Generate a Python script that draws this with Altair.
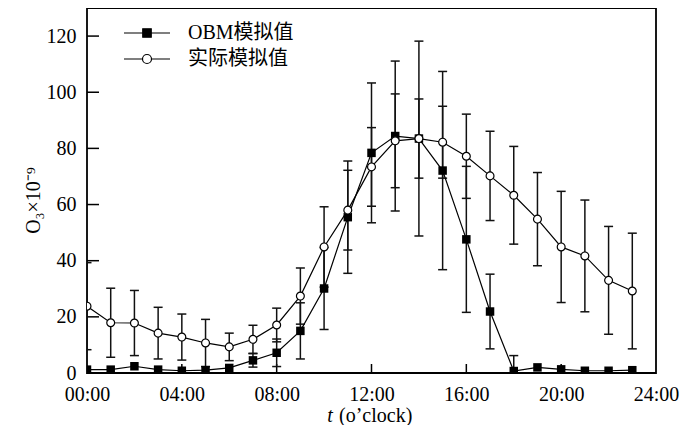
import altair as alt
import pandas as pd

# ---------------- data ----------------
hours = list(range(24))
series_names = ["OBM模拟值", "实际模拟值"]

obm_values = [1.2, 1.2, 2.4, 1.2, 0.8, 1.0, 1.8, 4.5, 7.2, 15.0, 30.1, 55.5,
              78.4, 84.4, 83.5, 72.1, 47.6, 21.9, 0.7, 2.0, 1.3, 0.8, 0.8, 1.0]
obm_errors = [0, 0, 0, 0, 0, 0, 0, 2.4, 4.9, 10.0, 14.6, 20.0,
              24.9, 26.7, 34.7, 35.3, 26.0, 13.3, 5.5, 0, 0, 0, 0, 0]

actual_values = [23.8, 17.9, 17.8, 14.2, 12.8, 10.7, 9.3, 12.0, 17.1, 27.4, 44.9, 58.0,
                 73.4, 82.7, 83.5, 82.2, 77.2, 70.2, 63.3, 54.8, 44.9, 41.7, 33.0, 29.2]
actual_errors = [15.5, 12.3, 11.6, 9.2, 8.2, 8.4, 4.9, 5.0, 6.0, 10.0, 14.3, 14.2,
                 14.0, 16.7, 14.1, 12.8, 15.0, 15.9, 17.4, 16.6, 19.8, 19.9, 19.2, 20.6]

x_tick_values = [0, 4, 8, 12, 16, 20, 24]
y_tick_values = [0, 20, 40, 60, 80, 100, 120]

# ---------------- tables ----------------
rows = []
for name, vals, errs in [(series_names[0], obm_values, obm_errors),
                         (series_names[1], actual_values, actual_errors)]:
    for h, v, e in zip(hours, vals, errs):
        rows.append({"hour": h, "value": v, "err": e, "series": name,
                     "lo": v - e, "hi": v + e})
df = pd.DataFrame(rows)
df_err = df[df["err"] > 0]
df_obm = df[df["series"] == series_names[0]]
df_act = df[df["series"] == series_names[1]]

xtick_df = pd.DataFrame({"hour": x_tick_values[1:-1]})
ytick_df = pd.DataFrame({"value": y_tick_values[1:]})

FONT = "Liberation Serif, Times New Roman, Noto Sans CJK SC"
W, H = 569, 365

x_axis = alt.Axis(values=x_tick_values, ticks=False, domain=False, grid=False,
                  labelExpr="(datum.value < 10 ? '0' : '') + datum.value + ':00'",
                  labelFont=FONT, labelFontSize=20, labelColor="black",
                  labelPadding=11, labelFlush=False, labelOverlap=False, title=None)
y_axis = alt.Axis(values=y_tick_values, ticks=False, domain=False, grid=False,
                  labelFont=FONT, labelFontSize=20, labelColor="black",
                  labelPadding=11, labelFlush=False, labelOverlap=False,
                  title="O₃×10⁻⁹", titleFont=FONT, titleFontSize=20,
                  titleFontWeight="normal", titleColor="black",
                  titleAngle=270, titleAlign="center", titleBaseline="middle",
                  titleX=-54, titleY=192)

xs = alt.Scale(domain=[0, 24], nice=False, zero=False)
ys = alt.Scale(domain=[0, 130], nice=False)

X = alt.X("hour:Q", scale=xs, axis=x_axis)
Y = alt.Y("value:Q", scale=ys, axis=y_axis)

ERR_COLOR = "#111111"

err_rules = alt.Chart(df_err).mark_rule(clip=True, color=ERR_COLOR, strokeWidth=1.5).encode(
    x=X, y=alt.Y("lo:Q", scale=ys, axis=y_axis), y2="hi:Q")
cap_lo = alt.Chart(df_err).mark_tick(clip=True, orient="horizontal", size=9, thickness=1.5,
                                     color=ERR_COLOR, opacity=1).encode(
    x=X, y=alt.Y("lo:Q", scale=ys, axis=y_axis))
cap_hi = alt.Chart(df_err).mark_tick(clip=True, orient="horizontal", size=9, thickness=1.5,
                                     color=ERR_COLOR, opacity=1).encode(
    x=X, y=alt.Y("hi:Q", scale=ys, axis=y_axis))

lines = alt.Chart(df).mark_line(clip=True, color="black", strokeWidth=1.2).encode(
    x=X, y=Y, detail="series:N")

squares = alt.Chart(df_obm).mark_point(clip=True, shape="square", filled=True,
                                        color="black", size=72, opacity=1).encode(x=X, y=Y)
circles = alt.Chart(df_act).mark_point(clip=True, shape="circle", filled=True,
                                        fill="white", stroke="black", strokeWidth=1.2,
                                        size=62, opacity=1).encode(x=X, y=Y)

# legend symbols: a line with the marker on it (custom paths, unit = 5px)
path_square = "M-4.6,0L4.6,0M-0.85,-0.85L0.85,-0.85L0.85,0.85L-0.85,0.85Z"
path_circle = ("M-4.6,0L-0.9,0M0.9,0L4.6,0"
               "M-0.9,0A0.9,0.9,0,1,0,0.9,0A0.9,0.9,0,1,0,-0.9,0Z")
leg = alt.Legend(title=None, orient="none", legendX=50, legendY=15, padding=0,
                 symbolSize=100, symbolStrokeColor="black", symbolStrokeWidth=1.2,
                 symbolOpacity=1, labelFont=FONT, labelFontSize=20, labelColor="black",
                 labelOffset=31, rowPadding=6, labelLimit=300)
legend_layer = alt.Chart(df).mark_point(filled=True, opacity=0, strokeWidth=1.2).encode(
    x=X, y=Y,
    shape=alt.Shape("series:N", scale=alt.Scale(domain=series_names,
                                                range=[path_square, path_circle]),
                    legend=leg),
    fill=alt.Fill("series:N", scale=alt.Scale(domain=series_names,
                                              range=["black", "white"]),
                  legend=leg),
    stroke=alt.Stroke("series:N", scale=alt.Scale(domain=series_names,
                                                  range=["black", "black"]),
                      legend=leg),
)

# inward tick marks
xticks = alt.Chart(xtick_df).mark_rule(color="black", strokeWidth=1.5).encode(
    x=X, y=alt.value(H), y2=alt.value(H - 9))
yticks = alt.Chart(ytick_df).mark_rule(color="black", strokeWidth=1.5).encode(
    y=Y, x=alt.value(0), x2=alt.value(12))

# x title: italic t + (o'clock)
t_text = alt.Chart(pd.DataFrame({"a": [0]})).mark_text(
    font=FONT, fontSize=20, fontStyle="italic", align="center", baseline="alphabetic",
    color="black").encode(x=alt.value(243), y=alt.value(414), text=alt.value("t"))
oc_text = alt.Chart(pd.DataFrame({"a": [0]})).mark_text(
    font=FONT, fontSize=20, align="left", baseline="alphabetic",
    color="black").encode(x=alt.value(252), y=alt.value(414), text=alt.value("(o’clock)"))

chart = alt.layer(
    xticks, yticks, err_rules, cap_lo, cap_hi, lines, squares, circles, legend_layer,
    t_text, oc_text
).properties(
    width=W, height=H,
    padding={"left": 79, "top": 0, "right": 30, "bottom": 52},
    autosize=alt.AutoSizeParams(type="none"),
    background="white",
).configure_view(stroke="black", strokeWidth=1.8)

chart.save("out.html", embed_options={"renderer": "svg", "actions": False})
